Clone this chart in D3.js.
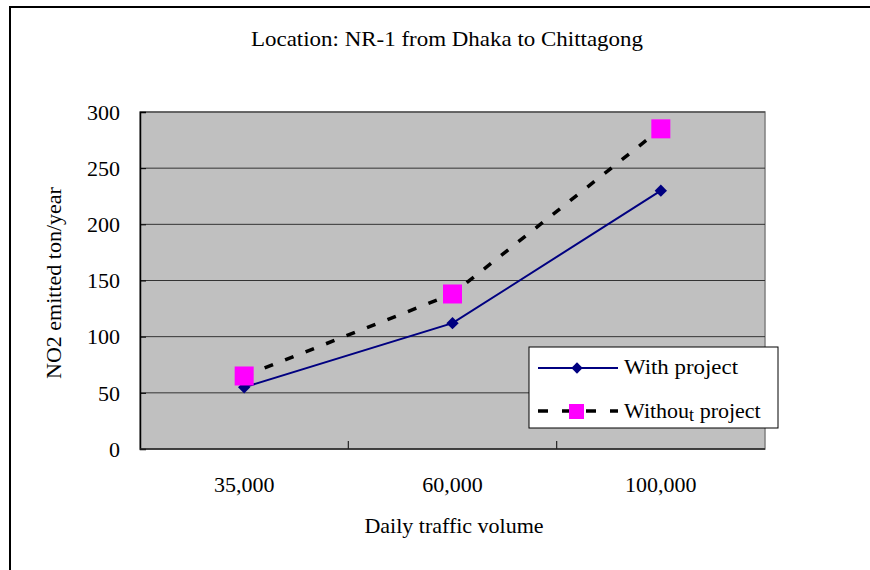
<!DOCTYPE html>
<html>
<head>
<meta charset="utf-8">
<script src="https://cdn.jsdelivr.net/npm/d3@7"></script>
<style>
  html, body { margin: 0; padding: 0; background: #fff; }
  svg { display: block; font-family: "Liberation Serif", "Times New Roman", serif; }
</style>
</head>
<body>
<svg id="chart" width="870" height="570"></svg>
<script>
const title = "Location: NR-1 from Dhaka to Chittagong";
const categories = ["35,000", "60,000", "100,000"];
const withProject = [55, 112, 230];
const withoutProject = [65, 138, 285];
const yTicks = [0, 50, 100, 150, 200, 250, 300];
const seriesNames = ["With project", "Without project"];
const xTitle = "Daily traffic volume";
const yTitle = "NO2 emitted ton/year";

const svg = d3.select("#chart");
const W = 870, H = 570;
const plot = {left: 140, right: 765, top: 112, bottom: 449};

// outer chart border (only left and top visible)
svg.append("path")
  .attr("d", `M10,${H+5} L10,7 L${W+5},7`)
  .attr("fill", "none").attr("stroke", "#000").attr("stroke-width", 2);

const x = d3.scaleBand().domain(categories).range([plot.left, plot.right]).padding(0);
const y = d3.scaleLinear().domain([0, 300]).range([plot.bottom, plot.top]);

// plot area
svg.append("rect")
  .attr("x", plot.left).attr("y", plot.top)
  .attr("width", plot.right - plot.left).attr("height", plot.bottom - plot.top)
  .attr("fill", "#C0C0C0").attr("stroke", "#808080").attr("stroke-width", 1.5);

// gridlines
svg.append("g").selectAll("line").data(yTicks.filter(d => d > 0)).join("line")
  .attr("x1", plot.left).attr("x2", plot.right)
  .attr("y1", d => y(d)).attr("y2", d => y(d))
  .attr("stroke", "#333").attr("stroke-width", 1);

// y axis
const yAxis = d3.axisLeft(y).tickValues(yTicks).tickSize(-6).tickPadding(20);
const gy = svg.append("g").attr("transform", `translate(${plot.left},0)`).call(yAxis);
gy.select(".domain").attr("stroke", "#000").attr("stroke-width", 1.5);
gy.selectAll(".tick line").attr("stroke", "#000");
gy.selectAll(".tick text").attr("font-size", 22).attr("fill", "#000")
  .attr("font-family", "Liberation Serif").attr("dy", "0.33em");

// x axis: ticks at category boundaries, pointing up into the plot
const gx = svg.append("g").attr("transform", `translate(0,${plot.bottom})`);
gx.append("line").attr("x1", plot.left).attr("x2", plot.right)
  .attr("y1", 0).attr("y2", 0).attr("stroke", "#222").attr("stroke-width", 1.5);
const bounds = categories.slice(1).map(c => x(c));
gx.selectAll("line.tk").data(bounds).join("line").attr("class", "tk")
  .attr("x1", d => d).attr("x2", d => d).attr("y1", 0).attr("y2", -8)
  .attr("stroke", "#222").attr("stroke-width", 1.2);
gx.selectAll("text").data(categories).join("text")
  .attr("x", d => x(d) + x.bandwidth() / 2).attr("y", 43)
  .attr("text-anchor", "middle").attr("font-size", 22).text(d => d);

// lines
const line = d3.line().x((d, i) => x(categories[i]) + x.bandwidth() / 2).y(d => y(d));
svg.append("path").datum(withoutProject).attr("d", line)
  .attr("fill", "none").attr("stroke", "#000").attr("stroke-width", 3.5)
  .attr("stroke-dasharray", "9,13");
svg.append("path").datum(withProject).attr("d", line)
  .attr("fill", "none").attr("stroke", "#000080").attr("stroke-width", 2);

// markers
svg.append("g").selectAll("path").data(withProject).join("path")
  .attr("transform", (d, i) => `translate(${x(categories[i]) + x.bandwidth() / 2},${y(d)}) rotate(45)`)
  .attr("d", d3.symbol().type(d3.symbolSquare).size(76))
  .attr("fill", "#000080");
const sq = 19;
svg.append("g").selectAll("rect").data(withoutProject).join("rect")
  .attr("x", (d, i) => x(categories[i]) + x.bandwidth() / 2 - sq / 2)
  .attr("y", d => y(d) - sq / 2).attr("width", sq).attr("height", sq)
  .attr("fill", "#FF00FF");

// title
svg.append("text").attr("x", 447).attr("y", 46).attr("text-anchor", "middle")
  .attr("font-size", 22).attr("textLength", 392).attr("lengthAdjust", "spacingAndGlyphs")
  .text(title);

// axis titles
svg.append("text").attr("x", 454).attr("y", 533).attr("text-anchor", "middle")
  .attr("font-size", 22).text(xTitle);
svg.append("text").attr("transform", "translate(61,283) rotate(-90)")
  .attr("text-anchor", "middle").attr("font-size", 22).text(yTitle);

// legend
const lg = svg.append("g");
lg.append("rect").attr("x", 529).attr("y", 347).attr("width", 249).attr("height", 81)
  .attr("fill", "#fff").attr("stroke", "#000").attr("stroke-width", 1);
lg.append("line").attr("x1", 538).attr("x2", 618).attr("y1", 368).attr("y2", 368)
  .attr("stroke", "#000080").attr("stroke-width", 2);
lg.append("path").attr("transform", "translate(577,368) rotate(45)")
  .attr("d", d3.symbol().type(d3.symbolSquare).size(64)).attr("fill", "#000080");
lg.append("line").attr("x1", 538).attr("x2", 618).attr("y1", 411).attr("y2", 411)
  .attr("stroke", "#000").attr("stroke-width", 3.5).attr("stroke-dasharray", "10,14");
lg.append("rect").attr("x", 569).attr("y", 404).attr("width", 15).attr("height", 15)
  .attr("fill", "#FF00FF");
lg.append("text").attr("x", 624).attr("y", 374).attr("font-size", 22)
  .attr("textLength", 114).attr("lengthAdjust", "spacingAndGlyphs").text(seriesNames[0]);
const t2 = lg.append("text").attr("x", 624).attr("y", 418).attr("font-size", 22);
t2.append("tspan").text(seriesNames[1].slice(0, 6));
t2.append("tspan").attr("dy", 3).attr("font-size", 18).text(seriesNames[1].slice(6, 7));
t2.append("tspan").attr("dy", -3).text(seriesNames[1].slice(7));
</script>
</body>
</html>
